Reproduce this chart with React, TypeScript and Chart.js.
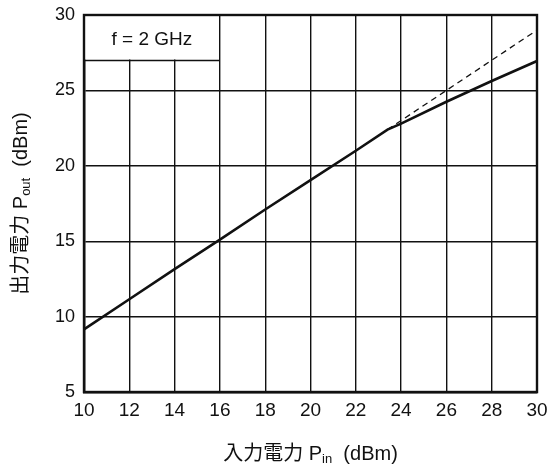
import { useEffect, useRef } from "react";
import { Chart, registerables } from "chart.js";

Chart.register(...registerables);

// Output power vs. input power, dBm
const inputPower = [10, 12, 14, 16, 18, 20, 22, 23.4, 24, 26, 28, 30];
const outputPower = [9.15, 11.15, 13.15, 15.1, 17.1, 19.05, 21.0, 22.4, 22.8, 24.25, 25.62, 26.95];

// Extension of the linear (small-signal) gain line
const linearInput = [23.4, 30];
const linearOutput = [22.4, 29.0];

// Axis ranges and tick steps
const xRange = [10, 30];
const xStep = 2;
const yRange = [5, 30];
const yStep = 5;

// Frequency note box in the upper-left corner: from the axis origin side up to x = 16, down to y = 27
const noteText = "f = 2 GHz";
const noteBoxCorner = [16, 27];

type Part = { text: string; sub?: boolean };
const xTitle: Part[] = [{ text: "入力電力 P" }, { text: "in", sub: true }, { text: "  (dBm)" }];
const yTitle: Part[] = [{ text: "出力電力 P" }, { text: "out", sub: true }, { text: "  (dBm)" }];

const FONT = '"Liberation Sans", "Noto Sans CJK JP", Arial, sans-serif';
const INK = "#111";
const TITLE_SIZE = 20;
const SUB_SIZE = 13;

function partFont(p: Part) {
  return `${p.sub ? SUB_SIZE : TITLE_SIZE}px ${FONT}`;
}

function measureParts(ctx: CanvasRenderingContext2D, parts: Part[]) {
  let w = 0;
  for (const p of parts) {
    ctx.font = partFont(p);
    w += ctx.measureText(p.text).width;
  }
  return w;
}

// Draws a title with subscripts, centred on cx, on the given baseline
function drawParts(ctx: CanvasRenderingContext2D, parts: Part[], cx: number, baseline: number) {
  let x = cx - measureParts(ctx, parts) / 2;
  ctx.textAlign = "left";
  ctx.textBaseline = "alphabetic";
  for (const p of parts) {
    ctx.font = partFont(p);
    ctx.fillText(p.text, x, baseline + (p.sub ? 3 : 0));
    x += ctx.measureText(p.text).width;
  }
}

const framePlugin = {
  id: "frame",
  beforeDatasetsDraw(chart: Chart) {
    const { ctx, chartArea: a, scales } = chart;
    const bx = scales.x.getPixelForValue(noteBoxCorner[0]);
    const by = Math.round(scales.y.getPixelForValue(noteBoxCorner[1])) + 0.5;
    ctx.save();
    // clear the grid inside the note box
    ctx.fillStyle = "#fff";
    ctx.fillRect(a.left, a.top, bx - a.left - 1, by - a.top - 1);
    ctx.strokeStyle = INK;
    ctx.lineWidth = 1.4;
    ctx.beginPath();
    ctx.moveTo(a.left, by);
    ctx.lineTo(bx, by);
    ctx.stroke();
    ctx.fillStyle = INK;
    ctx.font = `19px ${FONT}`;
    ctx.textAlign = "center";
    ctx.textBaseline = "middle";
    ctx.fillText(noteText, (a.left + bx) / 2, (a.top + by) / 2 + 2);
    ctx.restore();
  },
  afterDatasetsDraw(chart: Chart) {
    const { ctx, chartArea: a } = chart;
    ctx.save();
    ctx.strokeStyle = INK;
    ctx.lineWidth = 2.4;
    ctx.strokeRect(a.left, a.top, a.right - a.left, a.bottom - a.top);
    ctx.restore();
  },
  afterDraw(chart: Chart) {
    const { ctx, chartArea: a } = chart;
    ctx.save();
    ctx.fillStyle = INK;
    drawParts(ctx, xTitle, (a.left + a.right) / 2, chart.height - 10);
    ctx.translate(27, (a.top + a.bottom) / 2);
    ctx.rotate(-Math.PI / 2);
    drawParts(ctx, yTitle, 0, 0);
    ctx.restore();
  },
};

export default function App() {
  const ref = useRef<HTMLCanvasElement>(null);

  useEffect(() => {
    document.body.style.margin = "0";
    const chart = new Chart(ref.current!, {
      type: "line",
      data: {
        datasets: [
          {
            data: inputPower.map((x, i) => ({ x, y: outputPower[i] })),
            borderColor: INK,
            borderWidth: 2.6,
            pointRadius: 0,
            tension: 0,
            fill: false,
          },
          {
            data: linearInput.map((x, i) => ({ x, y: linearOutput[i] })),
            borderColor: INK,
            borderWidth: 1.3,
            borderDash: [6, 4.5],
            pointRadius: 0,
            tension: 0,
            fill: false,
          },
        ],
      },
      options: {
        responsive: false,
        animation: false,
        devicePixelRatio: 1,
        layout: { padding: { top: 15, right: 14, left: 0, bottom: 0 } },
        plugins: { legend: { display: false }, tooltip: { enabled: false } },
        scales: {
          x: {
            type: "linear",
            min: xRange[0],
            max: xRange[1],
            afterFit(s: any) {
              s.height = 78;
              s.paddingLeft = 0;
              s.paddingRight = 0;
            },
            grid: { color: INK, lineWidth: 1.4, drawTicks: false },
            border: { color: INK, width: 2.4 },
            ticks: {
              stepSize: xStep,
              padding: 7,
              maxRotation: 0,
              autoSkip: false,
              color: INK,
              font: { family: FONT, size: 19 },
            },
          },
          y: {
            type: "linear",
            min: yRange[0],
            max: yRange[1],
            afterFit(s: any) {
              s.width = 84;
              s.paddingTop = 0;
              s.paddingBottom = 0;
            },
            grid: { color: INK, lineWidth: 1.4, drawTicks: false },
            border: { color: INK, width: 2.4 },
            ticks: {
              stepSize: yStep,
              padding: 9,
              color: INK,
              font: { family: FONT, size: 18 },
            },
          },
        },
      },
      plugins: [framePlugin],
    } as any);
    return () => chart.destroy();
  }, []);

  return <canvas ref={ref} width={551} height={470} style={{ display: "block" }} />;
}
